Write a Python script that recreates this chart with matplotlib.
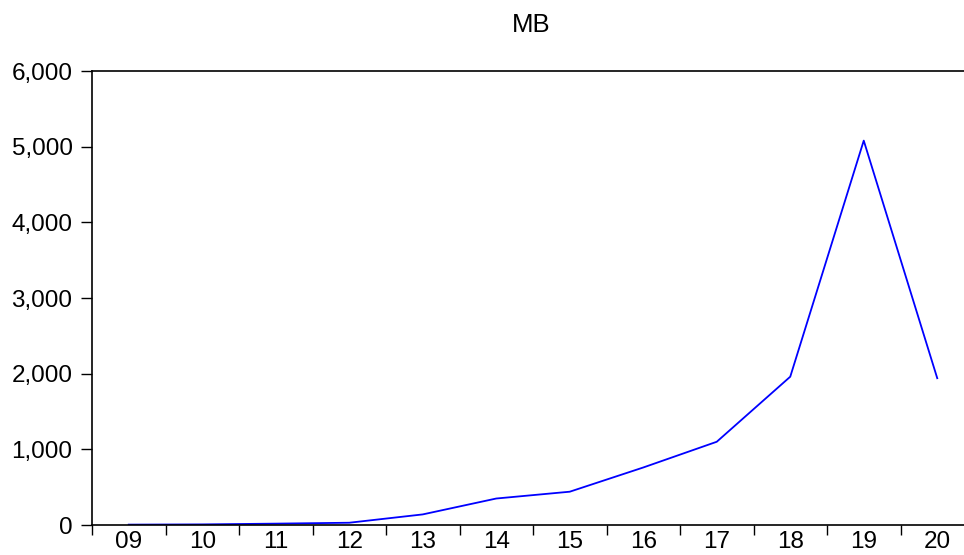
import matplotlib
matplotlib.use("Agg")
import matplotlib.pyplot as plt
import numpy as np

plt.rcParams['font.family'] = ['Liberation Sans', 'DejaVu Sans']

# yearly values
years = ["09", "10", "11", "12", "13", "14", "15", "16", "17", "18", "19", "20"]
mb = [5, 8, 18, 30, 140, 350, 440, 760, 1100, 1960, 5080, 1940]

fig = plt.figure(figsize=(9.64, 5.55), dpi=100)
# axes runs past the right edge of the image, as in the reference
ax = fig.add_axes([92 / 964, 1 - 525 / 555, 882 / 964, 454 / 555])

x = np.arange(len(years))
ax.plot(x, mb, color='#0000ff', linewidth=1.3)

ax.set_xlim(-0.5, len(years) - 0.5)
ax.set_ylim(0, 6000)

ax.set_yticks(range(0, 6001, 1000))
ax.set_yticklabels([f"{v:,}" for v in range(0, 6001, 1000)])
ax.tick_params(axis='y', direction='out', length=8, width=1, labelsize=17.5, pad=6)

ax.set_xticks(x)
ax.set_xticklabels(years)
ax.set_xticks(np.arange(-0.5, len(years), 1), minor=True)
ax.tick_params(axis='x', which='major', length=0, labelsize=17.5, pad=4)
ax.tick_params(axis='x', which='minor', direction='out', length=7, width=1)

for s in ['left', 'top', 'bottom', 'right']:
    ax.spines[s].set_linewidth(1.2)

fig.text(531 / 964, 1 - 25 / 555, "MB", ha='center', va='center', fontsize=18.5)

fig.savefig("out.png", dpi=100)
